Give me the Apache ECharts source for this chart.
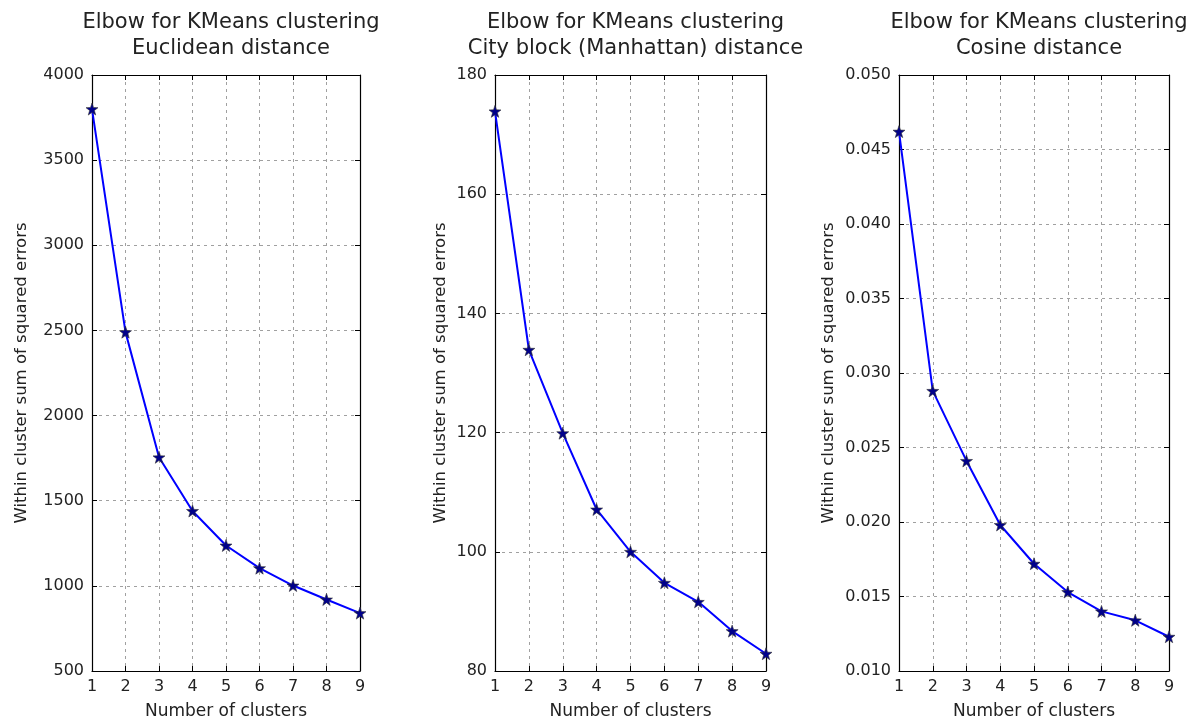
<!DOCTYPE html>
<html>
<head>
<meta charset="utf-8">
<script src="https://cdn.jsdelivr.net/npm/echarts@6/dist/echarts.min.js"></script>
<style>
  html, body { margin: 0; padding: 0; background: #fff; }
  #main { width: 1191px; height: 725px; }
</style>
</head>
<body>
<div id="main"></div>
<script>
var clusters = [1, 2, 3, 4, 5, 6, 7, 8, 9];
var euclidean = [3800, 2490, 1755, 1440, 1237, 1104, 1002, 920, 840];
var manhattan = [173.9, 133.9, 119.9, 107.1, 100.0, 94.8, 91.6, 86.7, 82.9];
var cosine = [0.0462, 0.0288, 0.0241, 0.0198, 0.0172, 0.0153, 0.0140, 0.0134, 0.0123];
var subtitles = ['Euclidean distance', 'City block (Manhattan) distance', 'Cosine distance'];
var yRanges = [[500, 4000, 500], [80, 180, 20], [0.010, 0.050, 0.005]];
var yDecimals = [0, 0, 3];

var star = 'path://M0,-10L2.35,-3.24L9.51,-3.09L3.8,1.24L5.88,8.09L0,4L-5.88,8.09L-3.8,1.24L-9.51,-3.09L-2.35,-3.24Z';
var font = 'DejaVu Sans';
var textColor = '#222';

var boxes = [
    {left: 92, width: 268, nameGap: 62},
    {left: 495, width: 271, nameGap: 46},
    {left: 899, width: 270, nameGap: 62}
];

var grids = [], xAxes = [], yAxes = [], titles = [], series = [];
var allData = [euclidean, manhattan, cosine];

boxes.forEach(function (b, i) {
    grids.push({left: b.left, width: b.width, top: 75, bottom: 52});
    titles.push({
        text: 'Elbow for KMeans clustering\n' + subtitles[i],
        left: b.left + b.width / 2,
        textAlign: 'center',
        top: 5,
        textStyle: {fontFamily: font, fontSize: 21, fontWeight: 'normal', color: textColor, lineHeight: 26}
    });
    var tickStyle = {show: true, inside: true, length: 5, lineStyle: {color: '#000'}};
    var lineStyle = {show: true, onZero: false, lineStyle: {color: '#000', width: 1.2}};
    xAxes.push({
        type: 'value', gridIndex: i, min: 1, max: 9, interval: 1,
        name: 'Number of clusters', nameLocation: 'middle', nameGap: 32,
        nameTextStyle: {fontFamily: font, fontSize: 17, color: textColor},
        axisLine: lineStyle, axisTick: tickStyle,
        axisLabel: {fontFamily: font, fontSize: 16, color: textColor, margin: 8},
        splitLine: {show: true, lineStyle: {color: '#a0a0a0', type: [3, 4], width: 1}}
    });
    xAxes.push({
        type: 'value', gridIndex: i, min: 1, max: 9, interval: 1, position: 'top',
        axisLine: lineStyle, axisTick: tickStyle, axisLabel: {show: false}, splitLine: {show: false}
    });
    var r = yRanges[i];
    var dec = yDecimals[i];
    yAxes.push({
        type: 'value', gridIndex: i, min: r[0], max: r[1], interval: r[2],
        name: 'Within cluster sum of squared errors', nameLocation: 'middle', nameGap: b.nameGap,
        nameTextStyle: {fontFamily: font, fontSize: 16.5, color: textColor},
        axisLine: lineStyle, axisTick: tickStyle,
        axisLabel: {
            fontFamily: font, fontSize: 16, color: textColor, margin: 8,
            formatter: function (v) { return v.toFixed(dec); }
        },
        splitLine: {show: true, lineStyle: {color: '#a0a0a0', type: [3, 4], width: 1}}
    });
    yAxes.push({
        type: 'value', gridIndex: i, min: r[0], max: r[1], interval: r[2], position: 'right',
        axisLine: lineStyle, axisTick: tickStyle, axisLabel: {show: false}, splitLine: {show: false}
    });
    series.push({
        type: 'line',
        xAxisIndex: i * 2,
        yAxisIndex: i * 2,
        data: clusters.map(function (c, k) { return [c, allData[i][k]]; }),
        symbol: star,
        symbolSize: 12,
        showAllSymbol: true,
        lineStyle: {color: '#0000ff', width: 2},
        itemStyle: {color: '#00008b', borderColor: '#333', borderWidth: 0.6},
        z: 3
    });
});

var chart = echarts.init(document.getElementById('main'));
chart.setOption({
    backgroundColor: '#ffffff',
    animation: false,
    title: titles,
    grid: grids,
    xAxis: xAxes,
    yAxis: yAxes,
    series: series
});
</script>
</body>
</html>
